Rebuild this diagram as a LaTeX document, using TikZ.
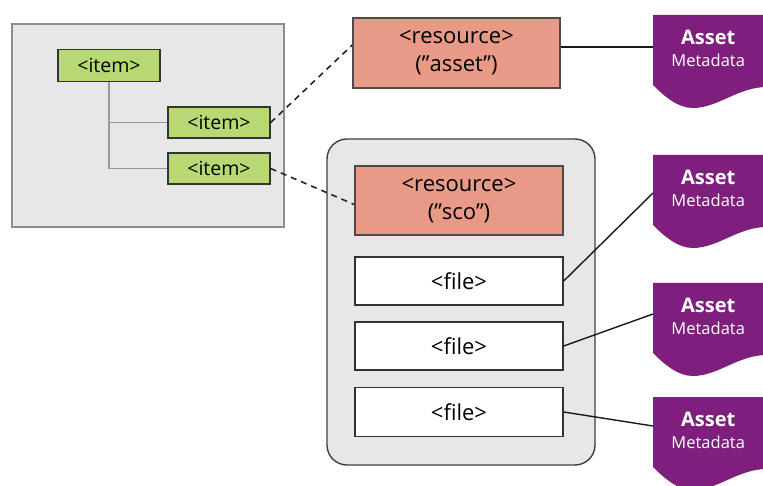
\documentclass[tikz,border=0pt]{standalone}
\usepackage{fontspec}
\setmainfont{Open Sans}
\usetikzlibrary{calc}
\definecolor{assetc}{HTML}{7E1F7D}
\definecolor{greenc}{HTML}{B7D873}
\definecolor{salmonc}{HTML}{E89A86}
\definecolor{panelc}{HTML}{E7E7E7}
\tikzset{
  panel/.style={draw=#1, fill=panelc, line width=1.4pt, inner sep=0pt},
  itembox/.style={draw=black!80, fill=greenc, line width=1.4pt, minimum width=102pt, minimum height=32pt, inner sep=0pt, font=\fontsize{19.5}{22}\selectfont},
  resbox/.style={draw=black!70, fill=salmonc, line width=1.4pt, minimum width=207pt, minimum height=70pt, inner sep=0pt, align=center, font=\fontsize{22}{28}\selectfont},
  filebox/.style={draw=black!80, fill=white, line width=1.4pt, minimum width=208pt, minimum height=48pt, inner sep=0pt, font=\fontsize{22}{24}\selectfont},
  assettext/.style={minimum width=110pt, minimum height=66pt, inner sep=0pt, align=center, text=white, font=\fontsize{16.5}{22}\selectfont},
  treeline/.style={draw=black!40, line width=1.3pt},
  dashlink/.style={draw=black!85, line width=1.6pt, dash pattern=on 6pt off 5pt},
  solidlink/.style={draw=black!90, line width=1.4pt},
}
\newcommand\assetmeta[3]{%
  \begin{scope}[shift={(#2,#3)}]
    \fill[assetc] (0,0) -- (114,0) -- (114,72) .. controls (85,72) and (65,93) .. (40,93) .. controls (25,93) and (12,82) .. (0,70) -- cycle;
    \node[assettext, anchor=north west] (#1) at (0,0) {{\fontsize{20}{22}\selectfont\bfseries Asset}\\Metadata};
  \end{scope}}
\begin{document}
\begin{tikzpicture}[x=1pt,y=-1pt]
\clip (0,0) rectangle (763,486);
\fill[white] (0,0) rectangle (763,486);
% left panel
\node[panel=black!45, minimum width=272pt, minimum height=203pt] (tree) at (148,125.5) {};
\node[itembox] (item1) at (109,65.5) {<item>};
\node[itembox, minimum height=31pt] (item2) at (219,122.5) {<item>};
\node[itembox, minimum height=31pt] (item3) at (219,168.5) {<item>};
\draw[treeline] (item1.south) |- (item2.west);
\draw[treeline] (item1.south) |- (item3.west);
% top resource
\node[resbox] (res1) at (456.5,53) {<resource>\\(”asset”)};
% big panel
\node[panel=black!75, rounded corners=20pt, minimum width=268pt, minimum height=326pt] (sco) at (461,302) {};
\node[resbox, minimum width=208pt, minimum height=69pt] (res2) at (459,200.5) {<resource>\\(”sco”)};
\node[filebox] (file1) at (459,281) {<file>};
\node[filebox] (file2) at (459,346) {<file>};
\node[filebox, minimum height=49pt] (file3) at (459,412) {<file>};
% asset metadata
\assetmeta{a1}{653}{15}
\assetmeta{a2}{653}{155}
\assetmeta{a3}{653}{283}
\assetmeta{a4}{653}{397}
% connectors
\draw[dashlink] (item2.east) -- ($(res1.west)+(0,-8)$);
\draw[dashlink] (item3.east) -- ($(res2.west)+(0,4)$);
\draw[solidlink] ($(res1.east)+(0,-6)$) -- ($(a1.north west)+(0,32)$);
\draw[solidlink] (file1.east) -- ($(a2.north west)+(0,38)$);
\draw[solidlink] (file2.east) -- ($(a3.north west)+(0,31)$);
\draw[solidlink] (file3.east) -- ($(a4.north west)+(0,29)$);
\end{tikzpicture}
\end{document}
